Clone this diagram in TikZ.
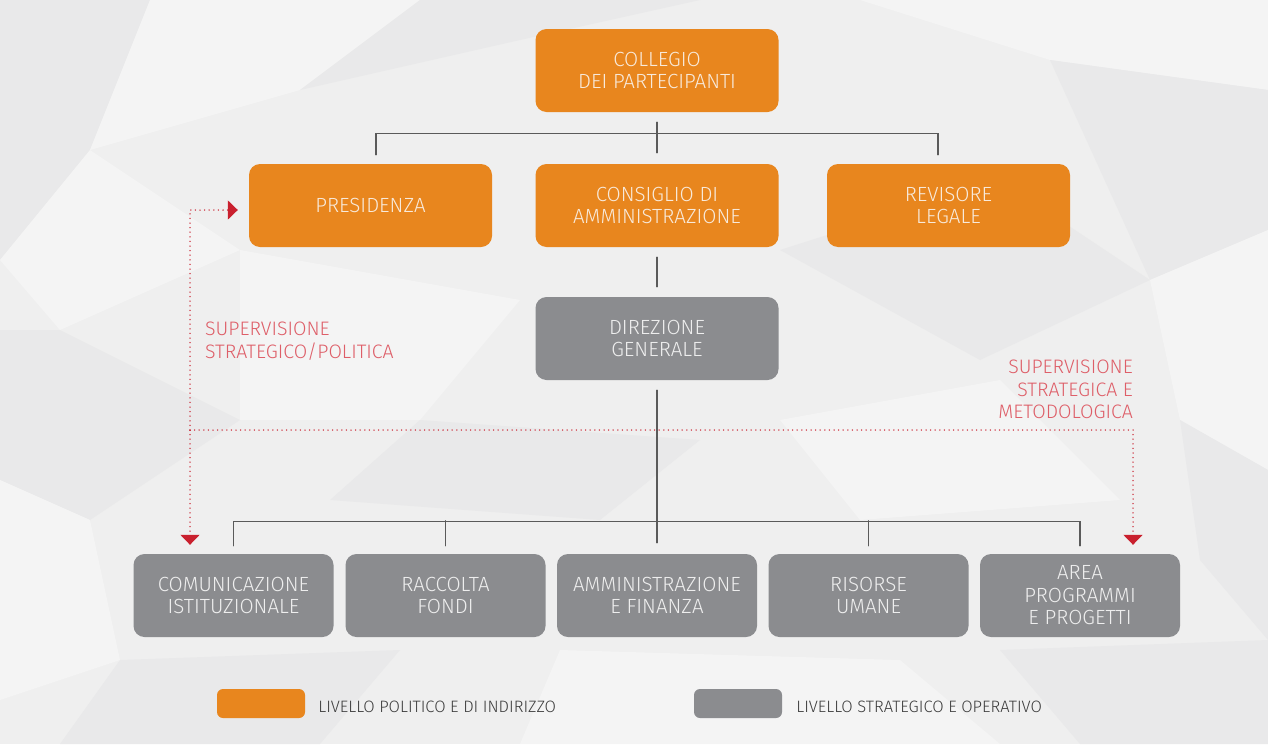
\documentclass[tikz,border=0pt]{standalone}
\usepackage{fontspec}
\setmainfont{Fira Sans}[UprightFont=* Light]
\usetikzlibrary{arrows.meta}
\definecolor{polorange}{HTML}{E8861E}
\definecolor{polgrey}{HTML}{8B8C8F}
\definecolor{poltext}{HTML}{F8EADB}
\definecolor{opstext}{HTML}{EEEEEE}
\definecolor{wiregrey}{HTML}{5A5A5A}
\definecolor{superred}{HTML}{C9202E}
\definecolor{supertext}{HTML}{DE5E68}
\definecolor{legendtext}{HTML}{3C3C3C}
\definecolor{bgbase}{HTML}{EFEFEF}
\definecolor{bgdark}{HTML}{E9E9EA}
\definecolor{bglight}{HTML}{F4F4F4}

\begin{document}
\begin{tikzpicture}[x=1pt,y=-1pt,line cap=round,
  box/.style={rounded corners=11pt,minimum width=243pt,minimum height=83pt,
    inner sep=0pt,align=center,font=\fontsize{20.5}{22.5}\selectfont},
  polbox/.style={box,fill=polorange,text=poltext},
  opsbox/.style={box,fill=polgrey,text=opstext},
  unitbox/.style={opsbox,minimum width=200pt},
  wire/.style={draw=wiregrey,line width=1.3pt},
  superv/.style={draw=superred,line width=1.5pt,dash pattern=on 0pt off 4.6pt,
    -{Triangle[width=19pt,length=10pt,fill=superred]}},
  suplabel/.style={text=supertext,inner sep=0pt,font=\fontsize{19.5}{22.5}\selectfont},
  legendbox/.style={rounded corners=6pt,minimum width=88pt,minimum height=29pt,inner sep=0pt},
  legendlabel/.style={anchor=west,inner sep=0pt,text=legendtext,font=\fontsize{16.5}{19}\selectfont}]
\path[use as bounding box,fill=bgbase] (0,0) rectangle (1268,744);
\fill[bgdark] (0,0) -- (150,0) -- (90,150) -- (0,260) -- cycle;
\fill[bglight] (150,0) -- (420,0) -- (300,90) -- (90,150) -- cycle;
\fill[bgdark] (420,0) -- (700,0) -- (520,40) -- (300,90) -- cycle;
\fill[bglight] (860,0) -- (1268,0) -- (1268,90) -- (1050,60) -- cycle;
\fill[bgdark] (1050,60) -- (1268,90) -- (1268,230) -- (1150,280) -- cycle;
\fill[bglight] (0,260) -- (90,150) -- (240,250) -- (60,330) -- cycle;
\fill[bgdark] (0,330) -- (60,330) -- (240,420) -- (90,520) -- (0,480) -- cycle;
\fill[bglight] (240,250) -- (520,300) -- (420,420) -- (240,420) -- cycle;
\fill[bgdark] (780,250) -- (1000,180) -- (1150,280) -- (980,360) -- cycle;
\fill[bglight] (1150,280) -- (1268,230) -- (1268,470) -- (1180,420) -- cycle;
\fill[bgdark] (420,420) -- (700,440) -- (600,520) -- (330,500) -- cycle;
\fill[bglight] (780,420) -- (1000,380) -- (1120,500) -- (860,520) -- cycle;
\fill[bgdark] (1180,420) -- (1268,470) -- (1268,640) -- (1200,560) -- cycle;
\fill[bglight] (0,480) -- (90,520) -- (120,660) -- (0,700) -- cycle;
\fill[bgdark] (120,660) -- (400,650) -- (320,744) -- (60,744) -- cycle;
\fill[bglight] (560,650) -- (900,660) -- (1000,744) -- (520,744) -- cycle;
\fill[bgdark] (1000,650) -- (1268,640) -- (1268,744) -- (1080,744) -- cycle;

\node[polbox] (college) at (657,70.5) {COLLEGIO\\DEI PARTECIPANTI};
\node[polbox] (presid) at (370.5,205.5) {PRESIDENZA};
\node[polbox] (board) at (657,205.5) {CONSIGLIO DI\\AMMINISTRAZIONE};
\node[polbox] (auditor) at (948.5,205.5) {REVISORE\\LEGALE};
\node[opsbox] (director) at (657,338.5) {DIREZIONE\\GENERALE};
\node[unitbox] (comms) at (233.5,595.5) {COMUNICAZIONE\\ISTITUZIONALE};
\node[unitbox] (funds) at (445.5,595.5) {RACCOLTA\\FONDI};
\node[unitbox] (finance) at (657,595.5) {AMMINISTRAZIONE\\E FINANZA};
\node[unitbox] (people) at (868.5,595.5) {RISORSE\\UMANE};
\node[unitbox] (projects) at (1080,595.5) {AREA\\PROGRAMMI\\E PROGETTI};

\draw[wire] ([yshift=-10pt]college.south) -- ([yshift=11pt]board.north);
\draw[wire] ([xshift=5.5pt,yshift=9pt]presid.north) |- ([yshift=-21pt]college.south) -| ([xshift=-10.5pt,yshift=9pt]auditor.north);
\draw[wire] ([yshift=-10pt]board.south) -- ([yshift=10pt]director.north);
\draw[wire] ([yshift=-10pt]director.south) -- ([yshift=11pt]finance.north);
\draw[wire] ([yshift=8pt]comms.north) |- ([yshift=32pt]finance.north) -| ([yshift=8pt]projects.north);
\draw[wire] ([yshift=8pt]funds.north) -- ++(0,-25);
\draw[wire] ([yshift=8pt]people.north) -- ++(0,-25);

\coordinate (hubleft) at (190,430);
\coordinate (hubright) at (1133,430);
\draw[superv] (hubleft) |- ([xshift=-11pt,yshift=-4.5pt]presid.west);
\draw[superv] (hubleft) -- ([yshift=9pt]comms.north -| hubleft);
\draw[superv] (hubleft) -- (hubright) -- ([yshift=9pt]projects.north -| hubright);

\node[suplabel,anchor=west,align=left] (suppol) at (205,341) {SUPERVISIONE\\STRATEGICO/POLITICA};
\node[suplabel,anchor=east,align=right] (supmet) at (1133,389.5) {SUPERVISIONE\\STRATEGICA E\\METODOLOGICA};

\node[legendbox,fill=polorange] (legpol) at (261,703.5) {};
\node[legendlabel] at ([xshift=13pt,yshift=-3pt]legpol.east) {LIVELLO POLITICO E DI INDIRIZZO};
\node[legendbox,fill=polgrey] (legops) at (738,703.5) {};
\node[legendlabel] at ([xshift=14pt,yshift=-3pt]legops.east) {LIVELLO STRATEGICO E OPERATIVO};
\end{tikzpicture}
\end{document}
